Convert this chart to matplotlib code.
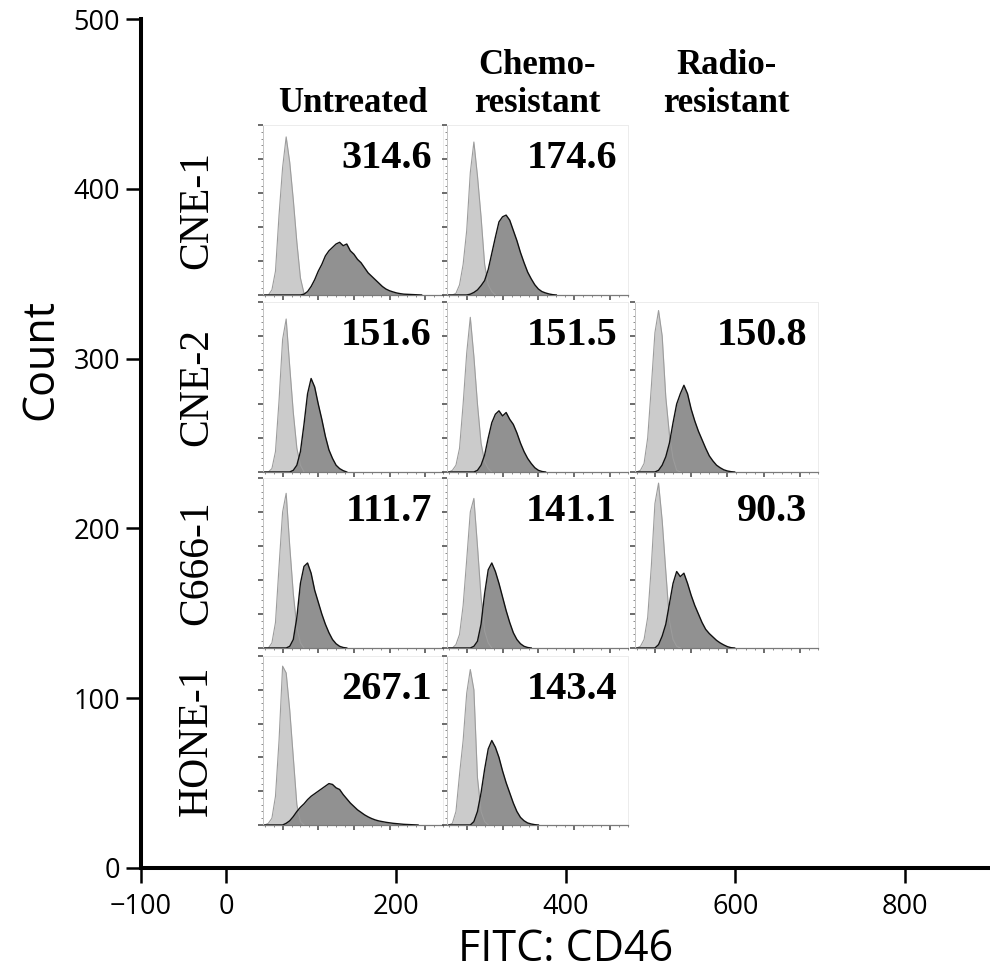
import numpy as np
import matplotlib
matplotlib.use("Agg")
import matplotlib.pyplot as plt
from matplotlib.ticker import MultipleLocator

# ---- data -------------------------------------------------------------
cell_lines = ["CNE-1", "CNE-2", "C666-1", "HONE-1"]
conditions = ["Untreated", "Chemo-\nresistant", "Radio-\nresistant"]

# mean fluorescence intensity printed in each panel (None = not measured)
mfi = [
    [314.6, 174.6, None],
    [151.6, 151.5, 150.8],
    [111.7, 141.1, 90.3],
    [267.1, 143.4, None],
]

# histogram heights (% of isotype max) on a grid starting at -100, step 20
HIST_X0, HIST_STEP = -100, 20

cne1_unt_iso = [0, 0, 3, 14, 47, 75, 93, 78, 56, 31, 10, 1, 0]
cne1_unt_cd46 = [0, 0, 0, 0, 0, 0, 0, 0, 0, 0, 0, 0.5, 2, 5, 9, 14, 18, 23, 26,
                 28, 30, 31, 29, 30, 26, 24, 21, 19, 16, 13, 11, 9, 7, 5,
                 3.5, 2.5, 1.8, 1.2, 0.8, 0.5, 0.4, 0.3, 0.2, 0.1, 0]
cne1_chemo_iso = [0, 0, 1, 6, 18, 38, 72, 90, 70, 46, 18, 6, 2, 0]
cne1_chemo_cd46 = [0, 0, 0, 0, 0, 0, 0.5, 1.5, 3, 5.5, 8.5, 15, 24.5, 34, 43,
                   46, 47, 44, 38, 32, 25, 19, 13.5, 9.5, 6, 3.5, 2, 1.2, 0.6,
                   0.2, 0]

cne2_unt_iso = [0, 0, 2, 12, 42, 78, 90, 62, 35, 14, 4, 0]
cne2_unt_cd46 = [0, 0, 0, 0, 0, 0, 0, 0, 1, 4, 12, 28, 46, 55, 50, 40, 31, 21,
                 13, 8, 4, 2, 0.8, 0]
cne2_chemo_iso = [0, 1, 4, 14, 40, 70, 91, 68, 40, 17, 6, 2, 0]
cne2_chemo_cd46 = [0, 0, 0, 0, 0, 0, 0, 0, 1, 4, 10, 20, 29, 34, 36, 33, 35, 31,
                   28, 23, 17, 12, 8, 5, 2.5, 1, 0.3, 0]
cne2_radio_iso = [0, 1, 5, 20, 50, 82, 95, 80, 44, 22, 8, 1, 0]
cne2_radio_cd46 = [0, 0, 0, 0, 0, 0, 1, 4, 9, 17, 29, 40, 46, 51, 46, 37, 30, 24,
                   19, 14, 9.5, 6.5, 4, 2.5, 1.3, 0.6, 0.2, 0]

c666_unt_iso = [0, 0, 3, 15, 48, 80, 91, 60, 32, 12, 3, 0]
c666_unt_cd46 = [0, 0, 0, 0, 0, 0, 0, 1, 5, 18, 38, 48, 50, 44, 34, 27, 20, 14,
                 9, 5, 2.5, 1, 0.3, 0]
c666_chemo_iso = [0, 0, 2, 8, 25, 52, 80, 88, 60, 30, 10, 3, 0]
c666_chemo_cd46 = [0, 0, 0, 0, 0, 0, 0, 1, 4, 14, 32, 46, 50, 45, 38, 30, 22, 15,
                   9, 5, 2.5, 1, 0.3, 0]
c666_radio_iso = [0, 1, 5, 18, 48, 85, 97, 75, 45, 16, 5, 1, 0]
c666_radio_cd46 = [0, 0, 0, 0, 0, 0, 2, 7, 14, 26, 38, 45, 42, 44, 38, 31, 25, 20,
                   15, 11, 8.5, 6.5, 4.5, 3, 1.8, 0.8, 0.2, 0]

hone1_unt_iso = [0, 1, 4, 17, 50, 94, 90, 68, 40, 12, 2, 0]
hone1_unt_cd46 = [0, 0, 0, 0, 0, 0, 1, 2.5, 5, 8, 10.5, 12.5, 15, 17, 18.5, 20,
                  21.5, 23, 24.5, 24, 22, 21, 18, 15.5, 13, 11, 9, 7.5, 6, 4.8,
                  3.8, 3, 2.4, 2, 1.6, 1.3, 1, 0.8, 0.6, 0.4, 0.3, 0.2, 0.1, 0]
hone1_chemo_iso = [0, 1, 8, 30, 50, 78, 92, 80, 28, 8, 2, 0]
hone1_chemo_cd46 = [0, 0, 0, 0, 0, 0, 0, 2, 8, 19, 33, 45, 50, 46, 40, 32, 25, 19,
                    13, 8, 4.5, 2.5, 1.2, 0.6, 0.2, 0]

histograms = [
    [(cne1_unt_iso, cne1_unt_cd46), (cne1_chemo_iso, cne1_chemo_cd46), None],
    [(cne2_unt_iso, cne2_unt_cd46), (cne2_chemo_iso, cne2_chemo_cd46),
     (cne2_radio_iso, cne2_radio_cd46)],
    [(c666_unt_iso, c666_unt_cd46), (c666_chemo_iso, c666_chemo_cd46),
     (c666_radio_iso, c666_radio_cd46)],
    [(hone1_unt_iso, hone1_unt_cd46), (hone1_chemo_iso, hone1_chemo_cd46), None],
]

outer_xticks = [-100, 0, 200, 400, 600, 800]
outer_yticks = [0, 100, 200, 300, 400, 500]

# ---- figure -----------------------------------------------------------
W, H = 990, 973
fig = plt.figure(figsize=(W / 100, H / 100), dpi=100)

SANS = ["Open Sans", "DejaVu Sans"]
SERIF = ["Liberation Serif", "DejaVu Serif"]


def px_rect(left, top, right, bottom):
    return [left / W, 1 - bottom / H, (right - left) / W, (bottom - top) / H]


# outer axes
ax = fig.add_axes(px_rect(141, 19, 990, 868))
ax.set_xlim(-100, 900)
ax.set_ylim(0, 500)
ax.set_xticks(outer_xticks)
ax.set_yticks(outer_yticks)
for s in ("top", "right"):
    ax.spines[s].set_visible(False)
for s in ("left", "bottom"):
    ax.spines[s].set_linewidth(2.9)
ax.tick_params(axis="both", direction="out", length=11, width=1.8, labelsize=19.5,
               pad=4)
ax.tick_params(axis="x", pad=7)
for lab in ax.get_xticklabels() + ax.get_yticklabels():
    lab.set_family(SANS)
ax.set_xlabel("FITC: CD46", family=SANS, fontsize=31)
ax.xaxis.label.set_va("baseline")
ax.xaxis.set_label_coords(0.5, (868 - 961) / 849)
ax.set_ylabel("Count", family=SANS, fontsize=31)
ax.yaxis.label.set_va("center")
ax.yaxis.set_label_coords((41 - 141) / 849, (868 - 360) / 849)

# panel grid in pixel coordinates
col_edges = [(263, 443), (447, 628), (635, 818)]
row_edges = [(125, 295), (302, 472), (478, 648), (656, 825)]

LIGHT_FILL, LIGHT_EDGE = "#cbcbcb", "#9c9c9c"
DARK_FILL, DARK_EDGE = "#8b8b8b", "#111111"

for r, (top, bot) in enumerate(row_edges):
    for c, (left, right) in enumerate(col_edges):
        pair = histograms[r][c]
        if pair is None:
            continue
        iso, cd46 = pair
        pax = fig.add_axes(px_rect(left, top, right, bot))
        pax.set_xlim(-110, 900)
        pax.set_ylim(0, 100)

        xi = HIST_X0 + HIST_STEP * np.arange(len(iso))
        xd = HIST_X0 + HIST_STEP * np.arange(len(cd46))
        pax.fill_between(xi, iso, 0, color=LIGHT_FILL, lw=0, zorder=1)
        pax.fill_between(xd, cd46, 0, color=DARK_FILL, lw=0, alpha=0.95, zorder=2)
        pax.plot(xi, iso, color=LIGHT_EDGE, lw=0.8, zorder=3)
        pax.plot(xd, cd46, color=DARK_EDGE, lw=1.0, zorder=4)

        pax.xaxis.set_major_locator(MultipleLocator(200))
        pax.xaxis.set_minor_locator(MultipleLocator(50))
        pax.yaxis.set_major_locator(MultipleLocator(20))
        pax.yaxis.set_minor_locator(MultipleLocator(4))
        pax.tick_params(which="major", direction="out", length=3.5, width=1.1,
                        color="#444444", labelbottom=False, labelleft=False)
        pax.tick_params(which="minor", direction="out", length=1.5, width=0.7,
                        color="#8a8a8a")
        pax.spines["left"].set_color("#c4c4c4")
        pax.spines["left"].set_linewidth(0.7)
        pax.spines["bottom"].set_color("#7a7a7a")
        pax.spines["bottom"].set_linewidth(0.9)
        for s in ("top", "right"):
            pax.spines[s].set_color("#ececec")
            pax.spines[s].set_linewidth(0.7)

        # value label: right-aligned, baseline 43 px below the panel top
        pax.text(1 - 11 / (right - left), 1 - 43 / (bot - top),
                 f"{mfi[r][c]}", transform=pax.transAxes, ha="right",
                 va="baseline", family=SERIF, fontweight="bold", fontsize=29)

# column headers (last line sits on a common baseline)
for c, (left, right) in enumerate(col_edges):
    cx = (left + right) / 2 / W
    fig.text(cx, 1 - 112 / H, conditions[c], ha="center", va="baseline",
             family=SERIF, fontweight="bold", fontsize=25, linespacing=1.2)

# row labels
for r, (top, bot) in enumerate(row_edges):
    fig.text(197 / W, 1 - (top + bot) / 2 / H, cell_lines[r], rotation=90,
             ha="center", va="center", family=SERIF, fontsize=30)

fig.savefig("out.png", dpi=100)
